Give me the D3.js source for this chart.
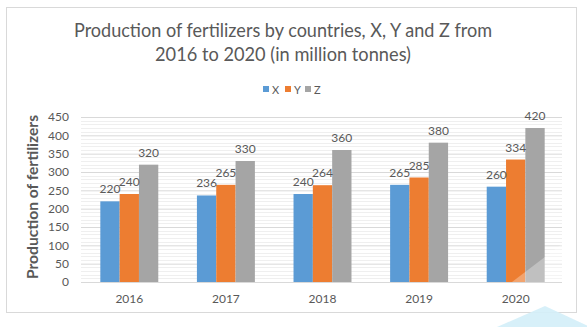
<!DOCTYPE html>
<html>
<head>
<meta charset="utf-8">
<script src="https://cdn.jsdelivr.net/npm/d3@7/dist/d3.min.js"></script>
<style>
  body { margin: 0; background: #fff; }
  svg { display: block; }
</style>
</head>
<body>
<div class="chart"></div>
<script>
// data
var years = ["2016", "2017", "2018", "2019", "2020"];
var seriesNames = ["X", "Y", "Z"];
var valuesX = [220, 236, 240, 265, 260];
var valuesY = [240, 265, 264, 285, 334];
var valuesZ = [320, 330, 360, 380, 420];
var yTicks = [0, 50, 100, 150, 200, 250, 300, 350, 400, 450];
var colors = ["#5b9bd5", "#ed7d31", "#a5a5a5"];

var width = 587, height = 327;
var font = "Lato, 'Open Sans', sans-serif";
var textColor = "#595959";

var svg = d3.select(".chart").append("svg")
    .attr("width", width)
    .attr("height", height);

// outer frame
svg.append("rect")
  .attr("x", 6.5).attr("y", 7.5)
  .attr("width", 570).attr("height", 305)
  .attr("fill", "#fff")
  .attr("stroke", "#d9d9d9");

// title
var titleLines = [
  {text: "Production of fertilizers by countries, X, Y and Z from", y: 37, len: 418},
  {text: "2016 to 2020 (in million tonnes)", y: 61, len: 256}
];
svg.selectAll(".title").data(titleLines).enter().append("text")
  .attr("class", "title")
  .attr("x", 283).attr("y", function(d) { return d.y; })
  .attr("text-anchor", "middle")
  .attr("textLength", function(d) { return d.len; })
  .attr("lengthAdjust", "spacingAndGlyphs")
  .style("font-family", font)
  .style("font-size", "18.5px")
  .style("fill", textColor)
  .text(function(d) { return d.text; });

var plot = {left: 81, right: 564, top: 117, bottom: 282};

var x0 = d3.scaleBand().domain(years)
    .range([plot.left, plot.right])
    .paddingInner(0.4).paddingOuter(0.2);
var x1 = d3.scaleBand().domain(seriesNames)
    .range([0, x0.bandwidth()]);
var y = d3.scaleLinear().domain([0, 450]).range([plot.bottom, plot.top]);

// minor grid
var g = svg.append("g");
g.selectAll(".minor").data(d3.range(10, 450, 10).filter(function(v) { return v % 50 !== 0; }))
  .enter().append("line")
    .attr("x1", plot.left).attr("x2", plot.right - 2)
    .attr("y1", function(d) { return Math.round(y(d)) + 0.5; })
    .attr("y2", function(d) { return Math.round(y(d)) + 0.5; })
    .attr("stroke", "#efefef");

// major grid + y axis labels
var yAxis = d3.axisLeft(y).tickValues(yTicks).tickSize(-(plot.right - 2 - plot.left)).tickPadding(12);
var ya = svg.append("g")
  .attr("transform", "translate(" + plot.left + ",0)")
  .call(yAxis);
ya.select(".domain").remove();
ya.selectAll(".tick line").attr("stroke", "#d9d9d9");
ya.selectAll(".tick text")
  .style("font-family", font).style("font-size", "12px").style("fill", textColor);

// y title
svg.append("text")
  .attr("transform", "translate(38," + 197 + ") rotate(-90)")
  .attr("text-anchor", "middle")
  .attr("textLength", 164)
  .attr("lengthAdjust", "spacingAndGlyphs")
  .style("font-family", font)
  .style("font-size", "15px")
  .style("font-weight", "bold")
  .style("fill", textColor)
  .text("Production of fertilizers");

// bars
var rows = years.map(function(yr, i) {
  return {year: yr, vals: [valuesX[i], valuesY[i], valuesZ[i]]};
});
var groups = svg.selectAll(".grp").data(rows).enter().append("g")
  .attr("transform", function(d) { return "translate(" + x0(d.year) + ",0)"; });

groups.selectAll("rect").data(function(d) {
    return d.vals.map(function(v, j) { return {name: seriesNames[j], v: v, j: j}; });
  })
  .enter().append("rect")
    .attr("x", function(d) { return x1(d.name); })
    .attr("y", function(d) { return y(d.v); })
    .attr("width", x1.bandwidth())
    .attr("height", function(d) { return y(0) - y(d.v); })
    .attr("fill", function(d) { return colors[d.j]; });

groups.selectAll(".lbl").data(function(d) {
    return d.vals.map(function(v, j) { return {name: seriesNames[j], v: v, j: j}; });
  })
  .enter().append("text")
    .attr("x", function(d) { return x1(d.name) + x1.bandwidth() / 2; })
    .attr("y", function(d) { return y(d.v) - 8; })
    .attr("text-anchor", "middle")
    .style("font-family", font)
    .style("font-size", "12px")
    .style("fill", textColor)
    .text(function(d) { return d.v; });

// x axis
svg.append("line")
  .attr("x1", plot.left).attr("x2", plot.right - 2)
  .attr("y1", plot.bottom + 0.5).attr("y2", plot.bottom + 0.5)
  .attr("stroke", "#d9d9d9");
svg.selectAll(".xlbl").data(years).enter().append("text")
  .attr("x", function(d) { return x0(d) + x0.bandwidth() / 2; })
  .attr("y", 303)
  .attr("text-anchor", "middle")
  .style("font-family", font)
  .style("font-size", "12px")
  .style("fill", textColor)
  .text(function(d) { return d; });

// legend
var legendX = [263, 285, 305];
var lg = svg.selectAll(".leg").data(seriesNames).enter().append("g")
  .attr("transform", function(d, i) { return "translate(" + legendX[i] + ",86)"; });
lg.append("rect").attr("width", 6).attr("height", 6)
  .attr("fill", function(d, i) { return colors[i]; });
lg.append("text").attr("x", 9).attr("y", 7.5)
  .style("font-family", font).style("font-size", "11px").style("fill", textColor)
  .text(function(d) { return d; });

// faint watermark shapes
svg.append("polygon")
  .attr("points", "512,282 562,244 562,282")
  .attr("fill", "#ffffff").attr("opacity", 0.3);
svg.append("polygon")
  .attr("points", "497,327 545,306 590,327")
  .attr("fill", "#d3eef8").attr("opacity", 0.9);
</script>
</body>
</html>
